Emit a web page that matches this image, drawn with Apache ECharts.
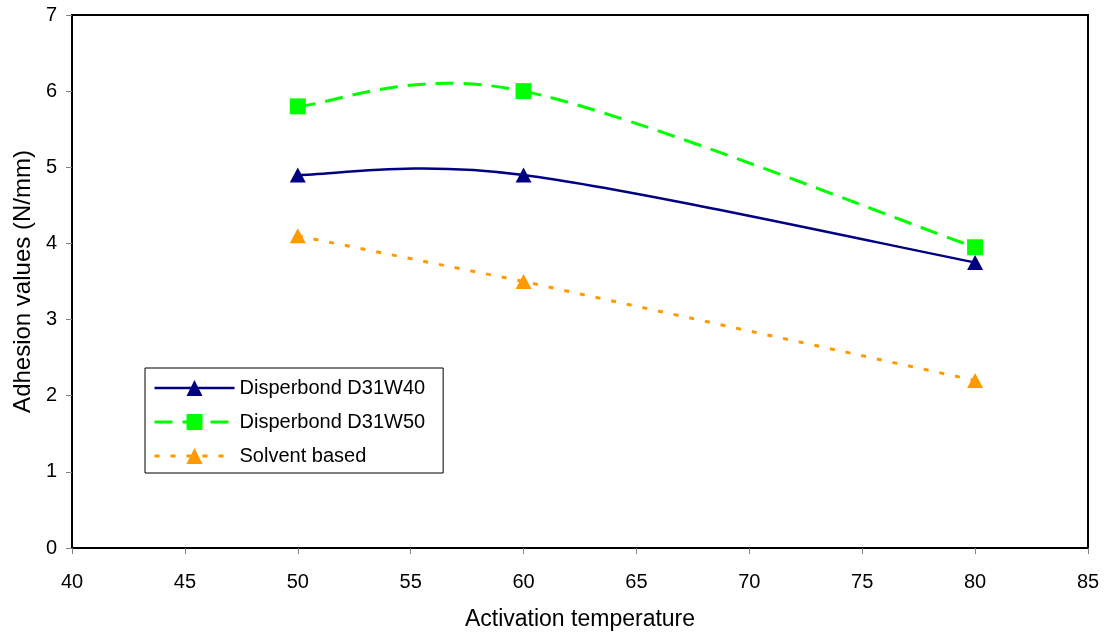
<!DOCTYPE html>
<html>
<head>
<meta charset="utf-8">
<script src="https://cdn.jsdelivr.net/npm/echarts@6/dist/echarts.min.js"></script>
<style>html,body{margin:0;padding:0;background:#fff}#c{width:1108px;height:632px}</style>
</head>
<body>
<div id="c"></div>
<script>
var temperatures = [50, 60, 80];
var d31w40 = [4.9, 4.9, 3.75];
var d31w50 = [5.8, 6.0, 3.95];
var solvent = [4.1, 3.5, 2.2];
var seriesNames = ['Disperbond D31W40', 'Disperbond D31W50', 'Solvent based'];
var xAxisTitle = 'Activation temperature';
var yAxisTitle = 'Adhesion values (N/mm)';

function pairs(xs, ys) { return xs.map(function (x, i) { return [x, ys[i]]; }); }

// Excel-style smoothed line (Catmull-Rom -> cubic Bezier), positioned through the axes' scales
function smoothRenderer(xs, ys, style) {
  return function (params, api) {
    if (params.dataIndex !== 0) return null;
    var pts = xs.map(function (x, i) { return api.coord([x, ys[i]]); });
    var children = [];
    for (var i = 0; i < pts.length - 1; i++) {
      var p0 = pts[i - 1] || pts[i], p1 = pts[i], p2 = pts[i + 1], p3 = pts[i + 2] || pts[i + 1];
      children.push({
        type: 'bezierCurve',
        shape: {
          x1: p1[0], y1: p1[1], x2: p2[0], y2: p2[1],
          cpx1: p1[0] + (p2[0] - p0[0]) / 6, cpy1: p1[1] + (p2[1] - p0[1]) / 6,
          cpx2: p2[0] - (p3[0] - p1[0]) / 6, cpy2: p2[1] - (p3[1] - p1[1]) / 6
        },
        style: style
      });
    }
    return { type: 'group', children: children };
  };
}

var font = 'Liberation Sans, Arial, sans-serif';
var colors = ['#000080', '#00FF00', '#FF9900'];
var chart = echarts.init(document.getElementById('c'), null, { renderer: 'canvas' });
chart.setOption({
  animation: false,
  backgroundColor: '#fff',
  grid: { left: 72, right: 20, top: 15, bottom: 84, show: true, borderColor: '#000', borderWidth: 2, backgroundColor: 'transparent', containLabel: false, outerBoundsMode: 'none' },
  legend: {
    orient: 'vertical', left: 145, top: 368,
    backgroundColor: '#fff', borderColor: '#000', borderWidth: 1,
    padding: [10, 18, 7, 8],
    itemWidth: 80, itemHeight: 20, itemGap: 14, itemSymbolGap: 5,
    textStyle: { fontFamily: font, fontSize: 20, color: '#000', lineHeight: 20 },
    data: [
      { name: seriesNames[0], lineStyle: { opacity: 1, color: colors[0], width: 2.5, type: 'solid' } },
      { name: seriesNames[1], lineStyle: { opacity: 1, color: colors[1], width: 3, type: [18, 10] } },
      { name: seriesNames[2], lineStyle: { opacity: 1, color: colors[2], width: 3, type: [5, 11] } }
    ]
  },
  xAxis: {
    type: 'value', min: 40, max: 85, interval: 5,
    name: xAxisTitle, nameLocation: 'middle', nameGap: 60,
    nameTextStyle: { fontFamily: font, fontSize: 23, color: '#000' },
    axisLine: { show: true, lineStyle: { color: '#000', width: 2 } },
    axisTick: { show: true, length: 6, lineStyle: { color: '#808080', width: 1 } },
    axisLabel: { fontFamily: font, fontSize: 20, color: '#000', margin: 24 },
    splitLine: { show: false }
  },
  yAxis: {
    type: 'value', min: 0, max: 7, interval: 1,
    name: yAxisTitle, nameLocation: 'middle', nameGap: 33,
    nameTextStyle: { fontFamily: font, fontSize: 24, color: '#000' },
    axisLine: { show: true, lineStyle: { color: '#000', width: 2 } },
    axisTick: { show: true, length: 6, lineStyle: { color: '#808080', width: 1 } },
    axisLabel: { fontFamily: font, fontSize: 20, color: '#000', margin: 15 },
    splitLine: { show: false }
  },
  series: [
    {
      name: seriesNames[0], type: 'line', data: pairs(temperatures, d31w40),
      symbol: 'triangle', symbolSize: [16, 15],
      lineStyle: { color: colors[0], width: 2.5, opacity: 0 },
      itemStyle: { color: colors[0] }, z: 5
    },
    {
      name: seriesNames[1], type: 'line', data: pairs(temperatures, d31w50),
      symbol: 'rect', symbolSize: 16,
      lineStyle: { color: colors[1], width: 3, opacity: 0 },
      itemStyle: { color: colors[1] }, z: 4
    },
    {
      name: seriesNames[2], type: 'line', data: pairs(temperatures, solvent),
      symbol: 'triangle', symbolSize: [16, 15],
      lineStyle: { color: colors[2], width: 3, type: [5, 11] },
      itemStyle: { color: colors[2] }, z: 4
    },
    {
      name: seriesNames[0], type: 'custom', data: pairs(temperatures, d31w40),
      renderItem: smoothRenderer(temperatures, d31w40, { fill: null, stroke: colors[0], lineWidth: 2.5 }), z: 3
    },
    {
      name: seriesNames[1], type: 'custom', data: pairs(temperatures, d31w50),
      renderItem: smoothRenderer(temperatures, d31w50, { fill: null, stroke: colors[1], lineWidth: 3, lineDash: [18, 10] }), z: 2
    }
  ]
});
</script>
</body>
</html>
